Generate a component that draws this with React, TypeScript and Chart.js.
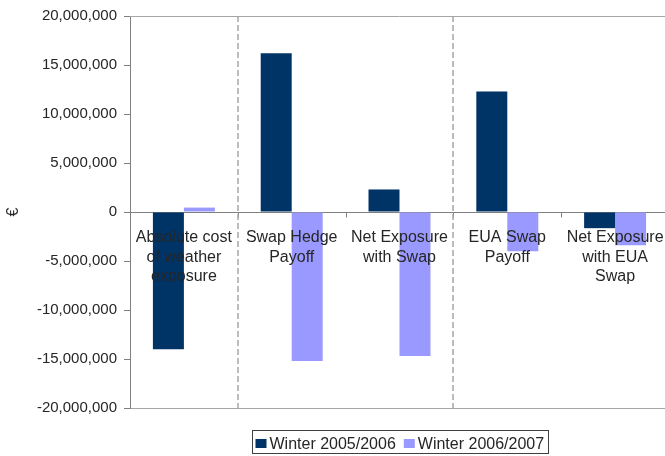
import { useEffect, useRef } from "react";
import { Chart, registerables } from "chart.js";

Chart.register(...registerables);

// Category names, one entry per printed line
const categoryLines: string[][] = [
  ["Absolute cost", "of weather", "exposure"],
  ["Swap Hedge", "Payoff"],
  ["Net Exposure", "with Swap"],
  ["EUA Swap", "Payoff"],
  ["Net Exposure", "with EUA", "Swap"],
];
const categories = categoryLines.map((l) => l.join(" "));

// Values in euro
const winter0506 = [-14000000, 16200000, 2300000, 12300000, -1650000];
const winter0607 = [450000, -15200000, -14700000, -4000000, -3400000];

const seriesNames = ["Winter 2005/2006", "Winter 2006/2007"];
const seriesColors = ["#003366", "#9999FF"];

const yMin = -20000000;
const yMax = 20000000;
const yStep = 5000000;

// Dashed separators are drawn after these category indexes
const separatorsAfter = [0, 2];

const FONT = '"Liberation Sans", Arial, Helvetica, sans-serif';
const TEXT = "#262626";

const decorations = {
  id: "decorations",
  beforeDatasetsDraw(chart: any) {
    const { ctx, chartArea } = chart;
    const x = chart.scales.x;
    const y = chart.scales.y;
    const zeroY = Math.round(y.getPixelForValue(0)) + 0.5;
    ctx.save();
    // top frame line
    ctx.strokeStyle = "#a6a6a6";
    ctx.lineWidth = 1;
    ctx.beginPath();
    ctx.moveTo(chartArea.left, Math.round(chartArea.top) + 0.5);
    ctx.lineTo(chartArea.right, Math.round(chartArea.top) + 0.5);
    ctx.stroke();
    // zero line with category tick marks
    ctx.strokeStyle = "#808080";
    ctx.beginPath();
    ctx.moveTo(chartArea.left, zeroY);
    ctx.lineTo(chartArea.right, zeroY);
    for (let i = 0; i < categories.length - 1; i++) {
      const bx = Math.round(x.getPixelForValue(i + 0.5)) + 0.5;
      ctx.moveTo(bx, zeroY);
      ctx.lineTo(bx, zeroY + 5);
    }
    ctx.stroke();
    // dashed group separators
    ctx.strokeStyle = "#a6a6a6";
    ctx.lineWidth = 1.5;
    ctx.setLineDash([6, 3]);
    separatorsAfter.forEach((i) => {
      const bx = Math.round(x.getPixelForValue(i + 0.5));
      ctx.beginPath();
      ctx.moveTo(bx, chartArea.top);
      ctx.lineTo(bx, chartArea.bottom);
      ctx.stroke();
    });
    ctx.restore();
  },
  afterDatasetsDraw(chart: any) {
    const { ctx } = chart;
    const x = chart.scales.x;
    const y = chart.scales.y;
    const zeroY = y.getPixelForValue(0);
    ctx.save();
    ctx.font = `16px ${FONT}`;
    ctx.fillStyle = TEXT;
    ctx.textAlign = "center";
    ctx.textBaseline = "alphabetic";
    categoryLines.forEach((lines, i) => {
      const cx = x.getPixelForValue(i);
      lines.forEach((line, j) => {
        ctx.fillText(line, cx, zeroY + 30 + j * 19.5);
      });
    });
    ctx.restore();
  },
  afterDraw(chart: any) {
    const { ctx, chartArea } = chart;
    ctx.save();
    ctx.font = `16px ${FONT}`;
    const sqW = 11;
    const sqH = 9;
    const gap = 3;
    const itemGap = 8;
    const pad = 3.5;
    const items = chart.data.datasets.map((ds: any) => ({
      label: ds.label,
      color: ds.backgroundColor,
      w: ctx.measureText(ds.label).width,
    }));
    let total = pad * 2;
    items.forEach((it: any, i: number) => {
      total += sqW + gap + it.w + (i > 0 ? itemGap : 0);
    });
    const cx = (chartArea.left + chartArea.right) / 2;
    const left = Math.round(cx - total / 2);
    const top = 430;
    const h = 23;
    ctx.strokeStyle = "#404040";
    ctx.lineWidth = 1;
    ctx.strokeRect(left + 0.5, top + 0.5, Math.round(total), h);
    let px = left + pad;
    ctx.textAlign = "left";
    ctx.textBaseline = "alphabetic";
    items.forEach((it: any) => {
      ctx.fillStyle = it.color;
      ctx.fillRect(px, top + 9, sqW, sqH);
      px += sqW + gap;
      ctx.fillStyle = TEXT;
      ctx.fillText(it.label, px, top + 18.5);
      px += it.w + itemGap;
    });
    ctx.restore();
  },
};

export default function App() {
  const canvasRef = useRef<HTMLCanvasElement | null>(null);

  useEffect(() => {
    if (!canvasRef.current) return;
    Chart.defaults.font.family = FONT;
    const chart = new Chart(canvasRef.current, {
      type: "bar",
      data: {
        labels: categories,
        datasets: [
          {
            label: seriesNames[0],
            data: winter0506,
            backgroundColor: seriesColors[0],
            categoryPercentage: 0.575,
            barPercentage: 1,
          },
          {
            label: seriesNames[1],
            data: winter0607,
            backgroundColor: seriesColors[1],
            categoryPercentage: 0.575,
            barPercentage: 1,
          },
        ],
      },
      options: {
        responsive: false,
        animation: false,
        layout: { padding: { top: 14, left: 0, right: 11, bottom: 48 } },
        plugins: {
          legend: { display: false },
          tooltip: { enabled: false },
        },
        scales: {
          x: {
            type: "category",
            ticks: { display: false },
            grid: { display: false },
            border: { display: true, color: "#a6a6a6", width: 1 },
            afterFit(scale: any) {
              scale.height = 0;
            },
          },
          y: {
            min: yMin,
            max: yMax,
            ticks: {
              stepSize: yStep,
              padding: 7,
              color: TEXT,
              font: { size: 15, family: FONT },
              callback: (v: any) => Number(v).toLocaleString("en-US"),
            },
            grid: {
              display: true,
              drawOnChartArea: false,
              drawTicks: true,
              tickLength: 6,
              color: "#808080",
            },
            border: { display: true, color: "#808080", width: 1 },
            title: {
              display: true,
              text: "€",
              color: TEXT,
              font: { size: 16, family: FONT },
              padding: { top: 4.4, bottom: 0 },
            },
            afterFit(scale: any) {
              scale.width = 130;
            },
          },
        },
      },
      plugins: [decorations],
    });
    return () => chart.destroy();
  }, []);

  return (
    <div
      style={{
        position: "fixed",
        left: 0,
        top: 0,
        width: 665,
        height: 456,
        overflow: "hidden",
        background: "#fff",
      }}
    >
      <canvas
        ref={canvasRef}
        width={680}
        height={456}
        style={{ display: "block", width: 680, height: 456 }}
      />
    </div>
  );
}
